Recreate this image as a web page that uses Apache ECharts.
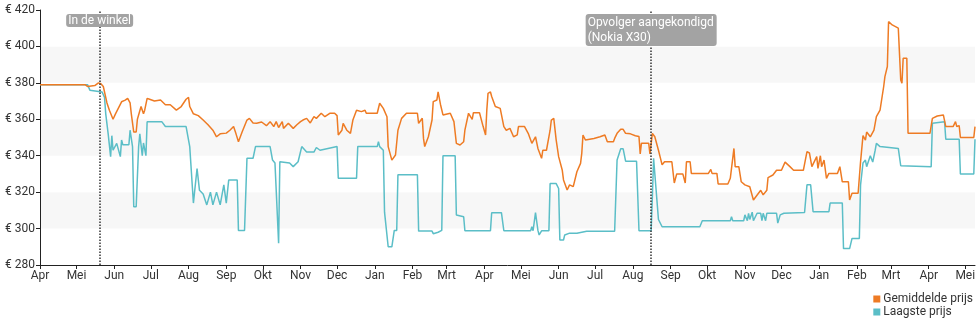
<!DOCTYPE html>
<html>
<head>
<meta charset="utf-8">
<script src="https://cdn.jsdelivr.net/npm/echarts@6/dist/echarts.min.js"></script>
<style>
  html, body { margin: 0; padding: 0; background: #fff; }
  #chart { width: 980px; height: 325px; }
</style>
</head>
<body>
<div id="chart"></div>
<script>
// Price history (EUR) — average offer price and lowest offer price
const avgPrice = [
  ['2021-04-01',379],['2021-05-08',379],['2021-05-10',378],['2021-05-16',378.5],['2021-05-19',380],
  ['2021-05-21',379.5],['2021-05-23',378],['2021-05-26',369],['2021-05-28',365],['2021-05-31',360],
  ['2021-06-02',363],['2021-06-07',369.6],['2021-06-10',370.5],['2021-06-12',371.5],['2021-06-14',369],
  ['2021-06-15',363],['2021-06-17',353],['2021-06-19',353],['2021-06-20',360],['2021-06-23',367],
  ['2021-06-25',363],['2021-06-26',365],['2021-06-28',371.5],['2021-06-30',371],['2021-07-04',370],
  ['2021-07-09',370.6],['2021-07-13',368],['2021-07-17',368],['2021-07-22',365],['2021-07-26',367],
  ['2021-07-30',371],['2021-08-01',372],['2021-08-02',367],['2021-08-05',363],['2021-08-09',362],
  ['2021-08-13',359.6],['2021-08-17',357],['2021-08-21',354],['2021-08-24',350.4],['2021-08-27',352],
  ['2021-09-01',352.4],['2021-09-04',354],['2021-09-07',356],['2021-09-09',352],['2021-09-11',347.7],
  ['2021-09-14',353],['2021-09-18',359.6],['2021-09-20',360.5],['2021-09-23',358],['2021-09-26',357.8],
  ['2021-09-30',358.5],['2021-10-04',356.5],['2021-10-07',358.7],['2021-10-10',356],['2021-10-12',358.7],
  ['2021-10-14',355.5],['2021-10-17',358.7],['2021-10-18',355],['2021-10-22',357.8],['2021-10-26',355],
  ['2021-10-29',357],['2021-11-01',358.7],['2021-11-03',359.6],['2021-11-06',360.5],['2021-11-09',358],
  ['2021-11-12',361.4],['2021-11-14',360.5],['2021-11-18',363.3],['2021-11-21',361.4],['2021-11-25',363.3],
  ['2021-11-29',363.3],['2021-12-01',362],['2021-12-02',351.4],['2021-12-05',354],['2021-12-06',357.8],
  ['2021-12-09',354],['2021-12-12',352.3],['2021-12-14',359.6],['2021-12-17',365],['2021-12-21',364.2],
  ['2021-12-24',365],['2021-12-25',363.3],['2022-01-03',363.3],['2022-01-05',368.8],['2022-01-08',366],
  ['2022-01-11',361.4],['2022-01-12',345],['2022-01-15',337.6],['2022-01-18',340.4],['2022-01-20',354],
  ['2022-01-23',360.5],['2022-01-27',363.3],['2022-02-05',363.3],['2022-02-06',357.8],['2022-02-09',360.6],
  ['2022-02-10',349.5],['2022-02-11',345],['2022-02-14',350.4],['2022-02-17',359.6],['2022-02-18',369.7],
  ['2022-02-21',370.6],['2022-02-22',375],['2022-02-24',368],['2022-02-26',362.4],['2022-03-04',363.3],
  ['2022-03-07',358.7],['2022-03-09',346.8],['2022-03-12',345.9],['2022-03-15',347.7],['2022-03-16',354],
  ['2022-03-19',363.3],['2022-03-22',360],['2022-03-23',363.6],['2022-03-28',363.6],['2022-03-31',356],
  ['2022-04-02',351.4],['2022-04-03',365],['2022-04-04',374.2],['2022-04-06',375],['2022-04-07',372.5],
  ['2022-04-10',367],['2022-04-14',366],['2022-04-17',356],['2022-04-19',354],['2022-04-22',355],
  ['2022-04-25',350.4],['2022-04-28',351.4],['2022-04-29',356],['2022-05-04',356],['2022-05-07',352.3],
  ['2022-05-10',346.8],['2022-05-13',350.4],['2022-05-15',344],['2022-05-18',338.6],['2022-05-19',343],
  ['2022-05-22',343],['2022-05-25',354],['2022-05-26',359.6],['2022-05-28',360.5],['2022-05-30',348.6],
  ['2022-06-01',339.5],['2022-06-04',332],['2022-06-05',326.7],['2022-06-08',321.2],['2022-06-10',324],
  ['2022-06-13',323],['2022-06-16',331.2],['2022-06-19',335.8],['2022-06-20',341.3],['2022-06-21',351.4],
  ['2022-06-23',348.6],['2022-06-30',349.5],['2022-07-05',350.4],['2022-07-09',351.4],['2022-07-11',347.7],
  ['2022-07-16',347.7],['2022-07-17',349.5],['2022-07-19',352.3],['2022-07-22',354.5],['2022-07-24',354.5],
  ['2022-07-26',352.3],['2022-07-30',352],['2022-08-03',351],['2022-08-06',350.5],['2022-08-07',341],
  ['2022-08-08',346.8],['2022-08-14',346.8],['2022-08-15',341],['2022-08-17',352.3],['2022-08-19',350.4],
  ['2022-08-22',343],['2022-08-25',335],['2022-08-26',335.5],['2022-08-27',336.7],['2022-09-02',336.7],
  ['2022-09-04',325],['2022-09-06',330],['2022-09-11',330],['2022-09-13',325],['2022-09-14',336.7],
  ['2022-09-17',336.7],['2022-09-18',330.3],['2022-10-02',330.3],['2022-10-04',332.5],['2022-10-05',330.3],
  ['2022-10-09',330.3],['2022-10-10',324.5],['2022-10-18',324.5],['2022-10-20',327.6],['2022-10-21',328.5],
  ['2022-10-23',344],['2022-10-24',334],['2022-10-27',334],['2022-10-29',325.7],['2022-11-01',324],
  ['2022-11-05',323],['2022-11-08',315.7],['2022-11-10',317.5],['2022-11-14',321],['2022-11-16',318.5],
  ['2022-11-19',321],['2022-11-20',328],['2022-11-24',329.4],['2022-11-27',332],['2022-12-01',332],
  ['2022-12-04',336.5],['2022-12-08',334],['2022-12-11',332],['2022-12-19',332],['2022-12-22',342.2],
  ['2022-12-24',341.5],['2022-12-26',334],['2022-12-27',333.5],['2022-12-30',339.5],['2022-12-31',333],
  ['2023-01-02',340],['2023-01-03',334],['2023-01-05',337.6],['2023-01-07',327.6],['2023-01-09',330.3],
  ['2023-01-16',330.3],['2023-01-18',334],['2023-01-20',325.7],['2023-01-25',325.7],['2023-01-26',315.7],
  ['2023-01-28',319.4],['2023-02-02',319.4],['2023-02-04',336.7],['2023-02-06',351],['2023-02-08',348.6],
  ['2023-02-09',353],['2023-02-12',350.4],['2023-02-15',354],['2023-02-17',361.4],['2023-02-20',365],
  ['2023-02-21',366],['2023-02-23',378],['2023-02-24',383.4],['2023-02-26',389],['2023-02-27',413.6],
  ['2023-03-02',411.8],['2023-03-07',410],['2023-03-09',381.6],['2023-03-10',379.8],['2023-03-11',393.5],
  ['2023-03-14',393.5],['2023-03-15',352.3],['2023-04-02',352.3],['2023-04-04',360.5],['2023-04-08',361.8],
  ['2023-04-13',362.4],['2023-04-15',356],['2023-04-21',356],['2023-04-23',358.7],['2023-04-24',356],
  ['2023-04-26',356.5],['2023-04-27',350],['2023-05-08',350],['2023-05-09',356]
];

const lowPrice = [
  ['2021-04-01',379],['2021-05-10',379],['2021-05-12',376],['2021-05-22',375],['2021-05-24',372],
  ['2021-05-25',363],['2021-05-27',352],['2021-05-29',339.5],['2021-05-30',351],['2021-05-31',343],
  ['2021-06-03',346.8],['2021-06-06',339.5],['2021-06-07',348.6],['2021-06-08',346],['2021-06-13',346],
  ['2021-06-14',354],['2021-06-16',345],['2021-06-17',312],['2021-06-19',312],['2021-06-21',345],
  ['2021-06-22',352],['2021-06-24',340],['2021-06-25',347],['2021-06-27',340],['2021-06-28',358.7],
  ['2021-07-10',358.7],['2021-07-13',356],['2021-07-30',356],['2021-08-02',345],['2021-08-05',314],
  ['2021-08-08',333],['2021-08-10',321],['2021-08-13',319],['2021-08-16',313],['2021-08-19',320],
  ['2021-08-21',313],['2021-08-24',320],['2021-08-27',313],['2021-08-30',324],['2021-09-01',314],
  ['2021-09-03',326.6],['2021-09-10',326.6],['2021-09-11',299],['2021-09-16',299],['2021-09-18',338.6],
  ['2021-09-23',338.6],['2021-09-25',345],['2021-10-07',345],['2021-10-09',337.6],['2021-10-11',336],
  ['2021-10-14',292],['2021-10-15',336.7],['2021-10-23',336],['2021-10-26',334],['2021-10-30',336.7],
  ['2021-11-02',345],['2021-11-06',342],['2021-11-12',342],['2021-11-14',344.5],['2021-11-17',343],
  ['2021-11-18',344],['2021-12-01',345],['2021-12-02',327.6],['2021-12-17',327.6],['2021-12-18',345],
  ['2022-01-03',345],['2022-01-04',347.7],['2022-01-05',345],['2022-01-08',343],['2022-01-09',309],
  ['2022-01-12',290],['2022-01-15',290],['2022-01-17',299],['2022-01-19',299],['2022-01-20',329.6],
  ['2022-02-05',329.6],['2022-02-06',298.6],['2022-02-17',298.6],['2022-02-18',297.2],['2022-02-22',298],
  ['2022-02-25',299],['2022-02-26',340],['2022-03-08',340],['2022-03-09',307.5],['2022-03-15',306.5],
  ['2022-03-16',298.8],['2022-04-06',298.8],['2022-04-07',308.7],['2022-04-15',308.7],['2022-04-17',298.8],
  ['2022-05-09',298.8],['2022-05-10',301],['2022-05-11',298.8],['2022-05-13',308.7],['2022-05-15',299],
  ['2022-05-16',296.5],['2022-05-18',298.8],['2022-05-24',298.8],['2022-05-25',324.7],['2022-05-30',324.7],
  ['2022-06-01',322],['2022-06-02',293.7],['2022-06-05',293.7],['2022-06-06',296.5],['2022-06-10',297.5],
  ['2022-06-16',297.4],['2022-06-24',298.5],['2022-07-17',298.5],['2022-07-19',337.6],['2022-07-22',343.8],
  ['2022-07-24',343.8],['2022-07-26',337],['2022-08-04',337],['2022-08-06',298.8],['2022-08-16',298.8],
  ['2022-08-17',317.5],['2022-08-18',338.6],['2022-08-19',337.6],['2022-08-22',305],['2022-08-25',301],
  ['2022-09-25',301],['2022-09-27',304.3],['2022-10-20',304.3],['2022-10-21',306.5],['2022-10-22',304.3],
  ['2022-10-31',304.3],['2022-11-01',307.5],['2022-11-03',304.3],['2022-11-04',308.4],['2022-11-05',305],
  ['2022-11-07',309],['2022-11-08',304.3],['2022-11-11',308.4],['2022-11-14',308.4],['2022-11-15',304.3],
  ['2022-11-16',308.4],['2022-11-18',304.3],['2022-11-19',308.4],['2022-11-27',308.4],['2022-11-28',303],
  ['2022-11-30',307.5],['2022-12-03',308.4],['2022-12-20',308.8],['2022-12-22',324],['2022-12-25',324],
  ['2022-12-27',309.3],['2023-01-09',309.3],['2023-01-10',314],['2023-01-20',314],['2023-01-21',289],
  ['2023-01-26',289],['2023-01-28',294.6],['2023-02-03',294.6],['2023-02-04',324],['2023-02-06',336],
  ['2023-02-08',337.6],['2023-02-09',334],['2023-02-12',340],['2023-02-14',336.5],['2023-02-16',343],
  ['2023-02-17',346.8],['2023-02-20',345],['2023-03-07',344],['2023-03-09',334.5],['2023-04-03',334],
  ['2023-04-04',357.8],['2023-04-14',358.7],['2023-04-15',349],['2023-04-26',349],['2023-04-27',330],
  ['2023-05-08',330],['2023-05-09',349]
];

// Events marked with a dotted vertical line
const events = [
  { date: '2021-05-20', lines: ['In de winkel'] },
  { date: '2022-08-16', lines: ['Opvolger aangekondigd', '(Nokia X30)'] }
];

const monthLabels = ['Jan','Feb','Mrt','Apr','Mei','Jun','Jul','Aug','Sep','Okt','Nov','Dec'];
const yTicks = [280, 300, 320, 340, 360, 380, 400, 420];

// 'YYYY-MM-DD' -> local midnight timestamp
const ts = (s) => { const [y, m, d] = s.split('-').map(Number); return new Date(y, m - 1, d).getTime(); };
const toPoints = (rows) => rows.map(([d, v]) => [ts(d), v]);

const startDate = ts('2021-04-01');
const endDate = ts('2023-05-09');

// one tick at the first day of every month
const monthTicks = [];
for (let d = new Date(2021, 3, 1); d.getTime() <= endDate; d = new Date(d.getFullYear(), d.getMonth() + 1, 1)) {
  monthTicks.push(d.getTime());
}

const FONT = 'Roboto';
const ORANGE = '#ee7b24';
const TEAL = '#5bbec7';

// event label: box centred on the line, lines left-aligned inside the box
const eventLabel = (e) => {
  const ctx = document.createElement('canvas').getContext('2d');
  ctx.font = '12px ' + FONT;
  const w = Math.ceil(Math.max(...e.lines.map((l) => ctx.measureText(l).width)));
  const multi = e.lines.length > 1;
  const lh = multi ? 15 : 13;
  const pad = multi ? 1 : 0;
  return {
    show: true,
    position: 'end',
    distance: -(4 + lh * e.lines.length + pad * 2),
    formatter: e.lines.map((l) => '{t|' + l + '}').join('\n'),
    align: 'center',
    backgroundColor: '#a3a3a3',
    borderRadius: 3,
    padding: [pad, 2, pad, 2],
    rich: {
      t: { width: w, align: 'left', color: '#fff', fontFamily: FONT, fontSize: 12, lineHeight: lh }
    }
  };
};

const chart = echarts.init(document.getElementById('chart'), null, { renderer: 'canvas' });

chart.setOption({
  animation: false,
  textStyle: { fontFamily: FONT },
  grid: { left: 40, right: 5, top: 10, bottom: 60, containLabel: false },
  legend: {
    orient: 'vertical',
    right: 2,
    bottom: 2,
    itemWidth: 7,
    itemHeight: 7,
    itemGap: 1,
    icon: 'rect',
    align: 'left',
    textStyle: { fontFamily: FONT, fontSize: 12, color: '#333', padding: [0, 0, 0, -2] },
    data: ['Gemiddelde prijs', 'Laagste prijs']
  },
  xAxis: {
    type: 'value',
    min: startDate,
    max: endDate,
    axisLine: { show: true, lineStyle: { color: '#222', width: 1 } },
    axisTick: { show: true, length: 4, lineStyle: { color: '#222' }, customValues: monthTicks },
    axisLabel: {
      customValues: monthTicks,
      margin: 5,
      fontFamily: FONT,
      fontSize: 12,
      color: '#333',
      formatter: (v) => monthLabels[new Date(v).getMonth()]
    },
    splitLine: { show: false }
  },
  yAxis: {
    type: 'value',
    min: yTicks[0],
    max: yTicks[yTicks.length - 1],
    interval: 20,
    axisLine: { show: true, lineStyle: { color: '#222', width: 1 } },
    axisTick: { show: true, length: 4, lineStyle: { color: '#222' } },
    axisLabel: { margin: 5, fontFamily: FONT, fontSize: 12, color: '#333', formatter: '€ {value}' },
    splitLine: { show: false },
    splitArea: { show: true, areaStyle: { color: ['#ffffff', '#f7f7f7'] } }
  },
  series: [
    {
      name: 'Gemiddelde prijs',
      type: 'line',
      data: toPoints(avgPrice),
      showSymbol: false,
      symbol: 'none',
      color: ORANGE,
      lineStyle: { color: ORANGE, width: 1.5 },
      z: 3
    },
    {
      name: 'Laagste prijs',
      type: 'line',
      data: toPoints(lowPrice),
      showSymbol: false,
      symbol: 'none',
      color: TEAL,
      lineStyle: { color: TEAL, width: 1.5 },
      z: 2,
      markLine: {
        silent: true,
        symbol: ['none', 'none'],
        animation: false,
        lineStyle: { type: 'dotted', color: '#333', width: 1.5 },
        data: events.map((e) => ({ xAxis: ts(e.date), label: eventLabel(e) }))
      }
    }
  ]
});
</script>
</body>
</html>
